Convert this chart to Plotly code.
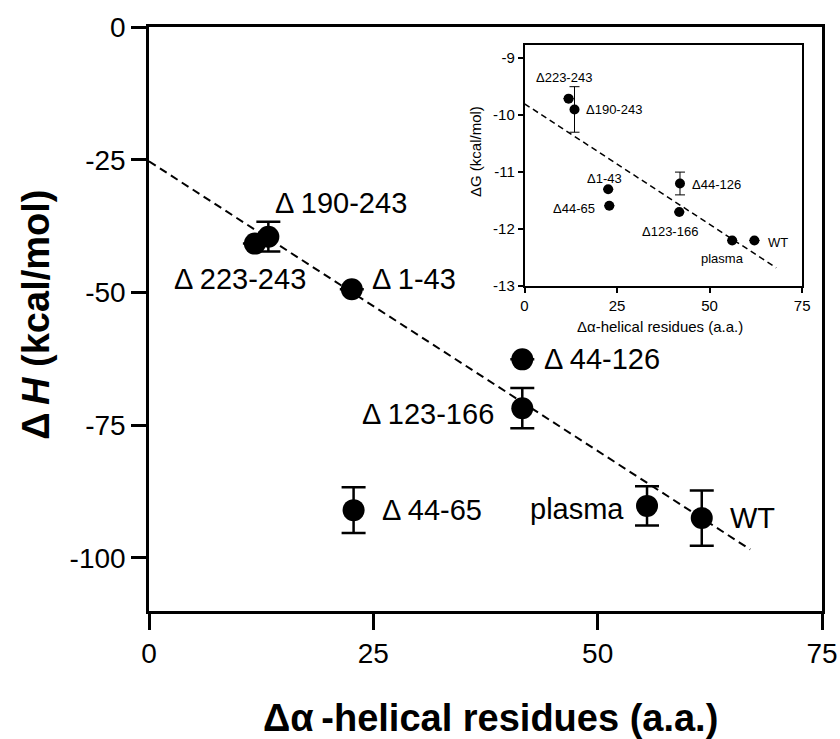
import plotly.graph_objects as go

# ---- data ----
names = ["Δ223-243", "Δ190-243", "Δ1-43", "Δ44-126", "Δ123-166", "Δ44-65", "plasma", "WT"]

# main panel: ΔH
dh_x = [11.8, 13.3, 22.6, 41.6, 41.6, 22.8, 55.5, 61.6]
dh_y = [-40.8, -39.5, -49.4, -62.6, -71.8, -91.0, -90.2, -92.5]
dh_err = [0.0, 2.8, 0.0, 0.0, 3.8, 4.3, 3.7, 5.2]
dh_fit_x = [0, 67]
dh_fit_y = [-25.3, -98.4]

# inset: ΔG
dg_x = [11.9, 13.5, 22.6, 42.0, 41.8, 22.9, 56.1, 62.1]
dg_y = [-9.71, -9.9, -11.3, -11.2, -11.7, -11.59, -12.2, -12.2]
dg_err = [0.0, 0.4, 0.0, 0.2, 0.0, 0.0, 0.0, 0.0]
dg_fit_x = [0, 68]
dg_fit_y = [-9.8, -12.68]

main_xticks = [0, 25, 50, 75]
main_yticks = [0, -25, -50, -75, -100]
main_ytext = ["0", "-25", "-50", "-75", "-100"]
inset_xticks = [0, 25, 50, 75]
inset_yticks = [-9, -10, -11, -12, -13]
inset_ytext = ["-9", "-10", "-11", "-12", "-13"]

# label placement (pixel offsets: xanchor, xshift, yshift)
main_lab = [("right", 53, -35), ("left", 5, 34), ("left", 18, 10), ("left", 20, 0),
            ("right", -26, -6), ("left", 26, 0), ("right", -21, -3), ("left", 26, 0)]
inset_lab = [("center", -5, 21), ("left", 9, 0), ("center", -4, 11), ("left", 10, -1),
             ("center", -9, -20), ("right", -12, -3), ("center", -10, -18), ("left", 12, -2)]

FONT = "Arial, Liberation Sans, sans-serif"
fig = go.Figure()

fig.add_trace(go.Scatter(x=dh_fit_x, y=dh_fit_y, mode="lines",
                         line=dict(color="black", width=2, dash="8px,5px"),
                         xaxis="x", yaxis="y", hoverinfo="skip"))
fig.add_trace(go.Scatter(x=dh_x, y=dh_y, mode="markers",
                         marker=dict(color="black", size=22),
                         error_y=dict(type="data", array=dh_err, color="black",
                                      thickness=2.5, width=12),
                         xaxis="x", yaxis="y"))
fig.add_trace(go.Scatter(x=dg_fit_x, y=dg_fit_y, mode="lines",
                         line=dict(color="black", width=1.5, dash="6px,4px"),
                         xaxis="x2", yaxis="y2", hoverinfo="skip"))
fig.add_trace(go.Scatter(x=dg_x, y=dg_y, mode="markers",
                         marker=dict(color="black", size=10),
                         error_y=dict(type="data", array=dg_err, color="black",
                                      thickness=1, width=5),
                         xaxis="x2", yaxis="y2"))

annotations = []
for n, x, y, (xa, xs, ys) in zip(names, dh_x, dh_y, main_lab):
    annotations.append(dict(x=x, y=y, xref="x", yref="y", text=n.replace("Δ", "Δ "),
                            showarrow=False,
                            xanchor=xa, yanchor="middle", xshift=xs, yshift=ys,
                            font=dict(family=FONT, size=29, color="black")))
for n, x, y, (xa, xs, ys) in zip(names, dg_x, dg_y, inset_lab):
    annotations.append(dict(x=x, y=y, xref="x2", yref="y2", text=n, showarrow=False,
                            xanchor=xa, yanchor="middle", xshift=xs, yshift=ys,
                            font=dict(family=FONT, size=13, color="black")))

annotations += [
    dict(x=-0.168, y=0.507, xref="paper", yref="paper",
         text="<b>Δ\u2009<i>H</i> (kcal/mol)</b>",
         textangle=-90, showarrow=False, xanchor="center", yanchor="middle",
         font=dict(family=FONT, size=38, color="black")),
    dict(x=0.507, y=-0.183, xref="paper", yref="paper",
         text="<b>Δα\u2009-helical residues (a.a.)</b>",
         showarrow=False, xanchor="center", yanchor="middle",
         font=dict(family=FONT, size=38, color="black")),
    dict(x=0.486, y=0.786, xref="paper", yref="paper", text="ΔG (kcal/mol)",
         textangle=-90, showarrow=False, xanchor="center", yanchor="middle",
         font=dict(family=FONT, size=15, color="black")),
    dict(x=0.759, y=0.488, xref="paper", yref="paper", text="Δα-helical residues (a.a.)",
         showarrow=False, xanchor="center", yanchor="middle",
         font=dict(family=FONT, size=15, color="black")),
]

axis_common = dict(showgrid=False, zeroline=False, showline=True, linecolor="black",
                   mirror=True, ticks="outside", tickcolor="black", color="black",
                   automargin=False, ticklabeloverflow="allow")

fig.update_layout(
    width=840, height=739,
    margin=dict(l=149, r=18, t=27, b=128, autoexpand=False),
    paper_bgcolor="white", plot_bgcolor="white",
    showlegend=False,
    font=dict(family=FONT, color="black"),
    xaxis=dict(**axis_common, domain=[0, 1], range=[0, 75], tickvals=main_xticks,
               linewidth=2.5, tickwidth=2.5, ticklen=16,
               tickfont=dict(size=28, family=FONT), anchor="y"),
    yaxis=dict(**axis_common, domain=[0, 1], range=[-110, 0], tickvals=main_yticks,
               ticktext=main_ytext,
               linewidth=2.5, tickwidth=2.5, ticklen=15,
               tickfont=dict(size=28, family=FONT), anchor="x"),
    xaxis2=dict(**axis_common, domain=[0.558, 0.9705], range=[0, 75], tickvals=inset_xticks,
                linewidth=1.5, tickwidth=1.5, ticklen=5,
                tickfont=dict(size=15, family=FONT), anchor="y2"),
    yaxis2=dict(**axis_common, domain=[0.5565, 0.969], range=[-13, -8.77], tickvals=inset_yticks,
                ticktext=inset_ytext,
                linewidth=1.5, tickwidth=1.5, ticklen=5,
                tickfont=dict(size=15, family=FONT), anchor="x2"),
    annotations=annotations,
)

fig.write_html("out.html")
